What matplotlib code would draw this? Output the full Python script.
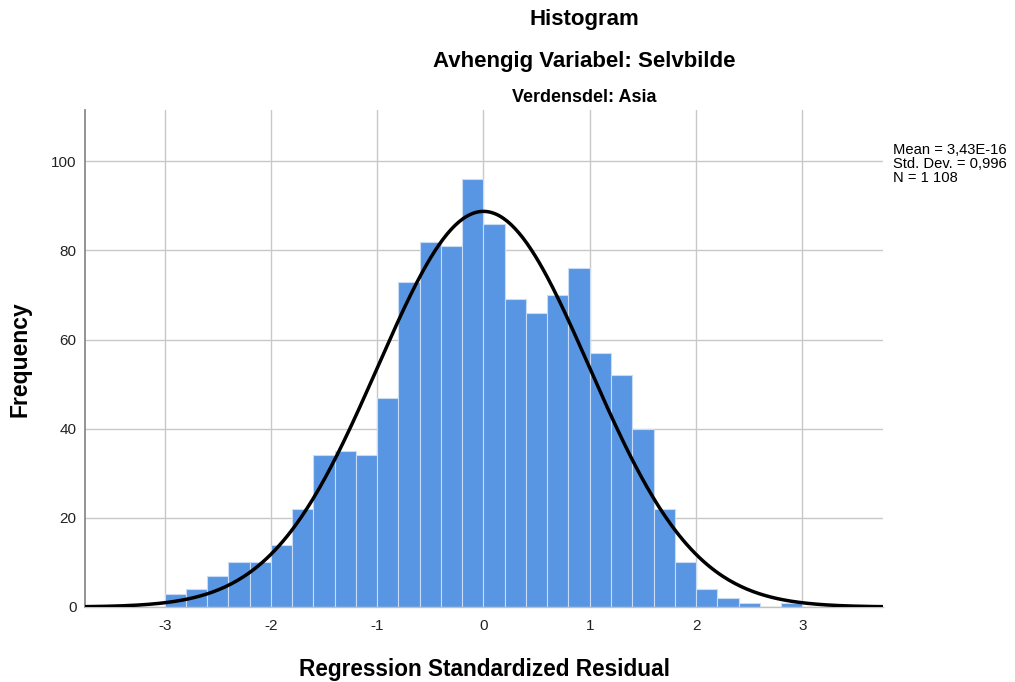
import numpy as np
import matplotlib
matplotlib.use("Agg")
import matplotlib.pyplot as plt

plt.rcParams['font.family'] = ['Liberation Sans', 'DejaVu Sans']

# histogram bins (width 0.2) and counts
bin_edges = np.round(np.arange(-3.0, 3.0001, 0.2), 2)
counts = [3, 4, 7, 10, 10, 14, 22, 34, 35, 34, 47, 73, 82, 81, 96,
          86, 69, 66, 70, 76, 57, 52, 40, 22, 10, 4, 2, 1, 0, 1]

mean = 3.43e-16
std = 0.996
n = 1108
bin_w = 0.2

x_ticks = [-3, -2, -1, 0, 1, 2, 3]
y_ticks = [0, 20, 40, 60, 80, 100]

fig = plt.figure(figsize=(10.15, 6.82), dpi=100)
ax = fig.add_axes([0.0837, 0.110, 0.7863, 0.728])

ax.bar(bin_edges[:-1], counts, width=bin_w, align='edge',
       color='#5896e4', edgecolor='#c9dcf5', linewidth=0.8, zorder=2)

# normal curve from the reported mean / std dev
xs = np.linspace(-3.75, 3.76, 400)
curve = n * bin_w / (std * np.sqrt(2 * np.pi)) * np.exp(-0.5 * ((xs - mean) / std) ** 2)
ax.plot(xs, curve, color='black', lw=2.5, zorder=3, solid_capstyle='butt')

ax.set_xlim(-3.75, 3.76)
ax.set_ylim(0, 111.4)
ax.set_xticks(x_ticks)
ax.set_xticklabels([str(t) for t in x_ticks])
ax.set_yticks(y_ticks)
ax.grid(True, color='#c8c8c8', lw=1.0, zorder=0)
ax.set_axisbelow(True)
ax.tick_params(length=0, labelsize=11, colors='#222222')
ax.tick_params(axis='x', pad=9)
ax.tick_params(axis='y', pad=6)
for s in ['top', 'right']:
    ax.spines[s].set_visible(False)
ax.spines['left'].set_color('#8a8a8a')
ax.spines['left'].set_linewidth(1.3)
ax.spines['bottom'].set_color('#c0c0c0')
ax.spines['bottom'].set_linewidth(1.0)

ax.set_xlabel('Regression Standardized Residual', fontsize=16.3, fontweight='bold', labelpad=18)
ax.set_ylabel('Frequency', fontsize=16.5, fontweight='bold', labelpad=14)

fig.text(584 / 1015, 1 - 20 / 682, 'Histogram', ha='center', va='center',
         fontsize=16, fontweight='bold')
fig.text(584 / 1015, 1 - 62 / 682, 'Avhengig Variabel: Selvbilde', ha='center', va='center',
         fontsize=16, fontweight='bold')
fig.text(584 / 1015, 1 - 97 / 682, 'Verdensdel: Asia', ha='center', va='center',
         fontsize=13, fontweight='bold')

fig.text(893 / 1015, 1 - 142.5 / 682,
         'Mean = 3,43E-16\nStd. Dev. = 0,996\nN = 1 108',
         ha='left', va='top', fontsize=10.6, linespacing=1.02)

fig.savefig('out.png', dpi=100)
